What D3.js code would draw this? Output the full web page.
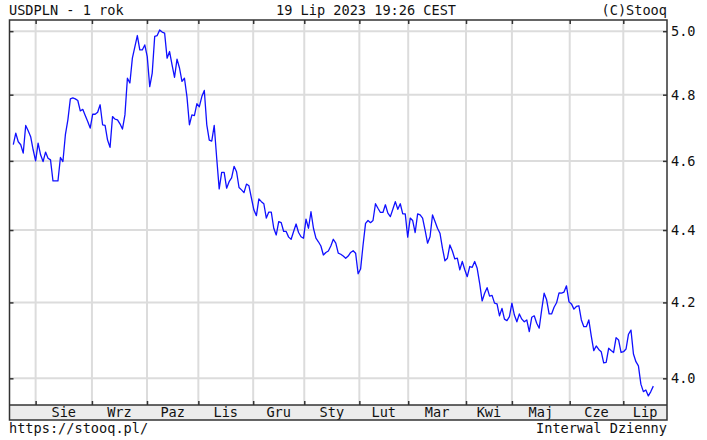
<!DOCTYPE html>
<html>
<head>
<meta charset="utf-8">
<script src="https://cdn.jsdelivr.net/npm/d3@7"></script>
<style>
  body { margin: 0; background: #fff; }
  text { font-family: "DejaVu Sans Mono", monospace; font-size: 13.6px; fill: #111; }
</style>
</head>
<body>
<div id="chart"></div>
<script>
'use strict';

  // daily closes USDPLN, 19 Jul 2022 .. 19 Jul 2023
  const closes = [
    4.648, 4.683, 4.657, 4.648, 4.623, 4.706, 4.690, 4.672, 4.633, 4.600,
    4.653, 4.618, 4.598, 4.626, 4.608, 4.603, 4.541, 4.541, 4.541, 4.610,
    4.598, 4.678, 4.723, 4.787, 4.790, 4.787, 4.782, 4.750, 4.755, 4.736,
    4.718, 4.698, 4.740, 4.740, 4.746, 4.769, 4.708, 4.706, 4.662, 4.640,
    4.733, 4.725, 4.723, 4.711, 4.695, 4.738, 4.851, 4.836, 4.914, 4.950,
    4.986, 4.940, 4.940, 4.956, 4.919, 4.825, 4.867, 4.983, 4.986, 5.004,
    4.997, 4.994, 4.914, 4.935, 4.893, 4.854, 4.911, 4.883, 4.841, 4.851,
    4.794, 4.708, 4.738, 4.736, 4.772, 4.763, 4.794, 4.813, 4.708, 4.662,
    4.659, 4.706, 4.608, 4.518, 4.566, 4.566, 4.520, 4.539, 4.550, 4.584,
    4.568, 4.522, 4.515, 4.507, 4.532, 4.527, 4.491, 4.457, 4.441, 4.489,
    4.481, 4.475, 4.434, 4.451, 4.451, 4.405, 4.386, 4.424, 4.421, 4.396,
    4.396, 4.380, 4.374, 4.396, 4.417, 4.393, 4.381, 4.377, 4.431, 4.405,
    4.452, 4.405, 4.377, 4.367, 4.355, 4.330, 4.337, 4.341, 4.355, 4.374,
    4.363, 4.335, 4.332, 4.327, 4.321, 4.327, 4.337, 4.342, 4.335, 4.278,
    4.291, 4.358, 4.419, 4.427, 4.421, 4.427, 4.475, 4.462, 4.450, 4.450,
    4.472, 4.448, 4.438, 4.459, 4.481, 4.459, 4.475, 4.446, 4.446, 4.380,
    4.434, 4.427, 4.393, 4.446, 4.443, 4.434, 4.400, 4.363, 4.381, 4.443,
    4.424, 4.405, 4.391, 4.349, 4.314, 4.321, 4.358, 4.341, 4.319, 4.321,
    4.289, 4.312, 4.289, 4.270, 4.298, 4.296, 4.312, 4.293, 4.252, 4.204,
    4.225, 4.240, 4.217, 4.219, 4.198, 4.196, 4.164, 4.184, 4.155, 4.151,
    4.162, 4.198, 4.166, 4.148, 4.169, 4.155, 4.148, 4.153, 4.122, 4.160,
    4.164, 4.144, 4.131, 4.180, 4.225, 4.207, 4.169, 4.169, 4.187, 4.199,
    4.226, 4.225, 4.228, 4.245, 4.202, 4.196, 4.182, 4.189, 4.191, 4.153,
    4.135, 4.135, 4.153, 4.110, 4.072, 4.084, 4.075, 4.069, 4.040, 4.041,
    4.078, 4.072, 4.067, 4.106, 4.100, 4.067, 4.069, 4.076, 4.115, 4.126,
    4.063, 4.043, 4.032, 3.985, 3.966, 3.970, 3.955, 3.966, 3.980
  ];

  // first trading day of each month, as an index into closes
  const monthStarts = [9, 31.7, 53.9, 74.6, 96.7, 117.3, 139.5, 159.2, 182.5, 201, 224.3, 245.9];
  const monthLabels = ["Sie", "Wrz", "Paz", "Lis", "Gru", "Sty", "Lut", "Mar", "Kwi", "Maj", "Cze", "Lip"];

  const yTicks = [4.0, 4.2, 4.4, 4.6, 4.8, 5.0];
  const yDomain = [3.932, 5.036];

  const titleLeft = "USDPLN - 1 rok";
  const titleMid = "19 Lip 2023 19:26 CEST";
  const titleRight = "(C)Stooq";
  const footLeft = "https://stooq.pl/";
  const footRight = "Interwal Dzienny";

  const msm = {
    width: 707,
    height: 440,
    left: 9.5,
    right: 667,
    top: 20,
    bottom: 405,
    band: 15,
    lineStart: 13.3,
    lineEnd: 653.3
  }

  window.onload = function() {
    let svg = d3.select('#chart')
      .append('svg')
      .attr('width', msm.width)
      .attr('height', msm.height);
    drawChart(svg);
  }

  function drawChart(svg) {
    let xScale = d3.scaleLinear()
      .domain([0, closes.length - 1])
      .range([msm.lineStart, msm.lineEnd]);

    let yScale = d3.scaleLog()
      .domain(yDomain)
      .range([msm.bottom, msm.top]);

    // grey band under the plot for the month names
    svg.append('rect')
      .attr('x', msm.left)
      .attr('y', msm.bottom)
      .attr('width', msm.right - msm.left)
      .attr('height', msm.band)
      .attr('fill', '#ececec');

    // grid
    let grid = svg.append('g').attr('stroke', '#dcdcdc').attr('stroke-width', 2);
    grid.selectAll('.hgrid')
      .data(yTicks)
      .enter()
      .append('line')
        .attr('x1', msm.left)
        .attr('x2', msm.right)
        .attr('y1', (d) => yScale(d))
        .attr('y2', (d) => yScale(d));
    grid.selectAll('.vgrid')
      .data(monthStarts)
      .enter()
      .append('line')
        .attr('x1', (d) => xScale(d))
        .attr('x2', (d) => xScale(d))
        .attr('y1', msm.top)
        .attr('y2', msm.bottom);

    // the price line
    svg.append('path')
      .datum(closes)
      .attr('fill', 'none')
      .attr('stroke', '#1010ff')
      .attr('stroke-width', 1.3)
      .attr('stroke-linejoin', 'round')
      .attr('d', d3.line()
        .x((d, i) => xScale(i))
        .y((d) => yScale(d)));

    // right axis with labels, ticks pointing inward
    let yAxis = d3.axisRight(yScale)
      .tickValues(yTicks)
      .tickFormat(d3.format('.1f'))
      .tickSizeInner(-4)
      .tickSizeOuter(0)
      .tickPadding(4);
    let yg = svg.append('g')
      .attr('transform', 'translate(' + msm.right + ', 0)')
      .call(yAxis);
    styleAxis(yg);

    // left ticks
    let yLeft = d3.axisLeft(yScale)
      .tickValues(yTicks)
      .tickFormat('')
      .tickSizeInner(-4)
      .tickSizeOuter(0);
    styleAxis(svg.append('g')
      .attr('transform', 'translate(' + msm.left + ', 0)')
      .call(yLeft));

    // month ticks on top and bottom
    let xTop = d3.axisTop(xScale).tickValues(monthStarts).tickFormat('').tickSizeInner(-4).tickSizeOuter(0);
    styleAxis(svg.append('g')
      .attr('transform', 'translate(0, ' + msm.top + ')')
      .call(xTop));
    let xBottom = d3.axisBottom(xScale).tickValues(monthStarts).tickFormat('').tickSizeInner(-4).tickSizeOuter(0);
    styleAxis(svg.append('g')
      .attr('transform', 'translate(0, ' + msm.bottom + ')')
      .call(xBottom));

    // month names centred between month lines
    let ends = monthStarts.slice(1).map((d) => xScale(d)).concat([msm.right]);
    svg.selectAll('.month')
      .data(monthLabels)
      .enter()
      .append('text')
        .attr('x', (d, i) => (xScale(monthStarts[i]) + ends[i]) / 2)
        .attr('y', msm.bottom + 12)
        .attr('text-anchor', 'middle')
        .text((d) => d);

    // frame
    svg.append('rect')
      .attr('x', msm.left)
      .attr('y', msm.top)
      .attr('width', msm.right - msm.left)
      .attr('height', msm.bottom + msm.band - msm.top)
      .attr('fill', 'none')
      .attr('stroke', '#333')
      .attr('stroke-width', 1.5);
    svg.append('line')
      .attr('x1', msm.left)
      .attr('x2', msm.right)
      .attr('y1', msm.bottom)
      .attr('y2', msm.bottom)
      .attr('stroke', '#333')
      .attr('stroke-width', 1.5);

    makeLabels(svg);
  }

  function styleAxis(g) {
    g.select('.domain').remove();
    g.selectAll('line').attr('stroke', '#333').attr('stroke-width', 1.5);
    g.selectAll('text')
      .attr('fill', '#111')
      .style('font-family', '"DejaVu Sans Mono", monospace')
      .style('font-size', '13.6px');
  }

  function makeLabels(svg) {
    svg.append('text').attr('x', 9).attr('y', 15).text(titleLeft);
    svg.append('text').attr('x', 276).attr('y', 15).text(titleMid);
    svg.append('text').attr('x', 667).attr('y', 15).attr('text-anchor', 'end').text(titleRight);
    svg.append('text').attr('x', 9).attr('y', 433).text(footLeft);
    svg.append('text').attr('x', 667).attr('y', 433).attr('text-anchor', 'end').text(footRight);
  }
</script>
</body>
</html>
